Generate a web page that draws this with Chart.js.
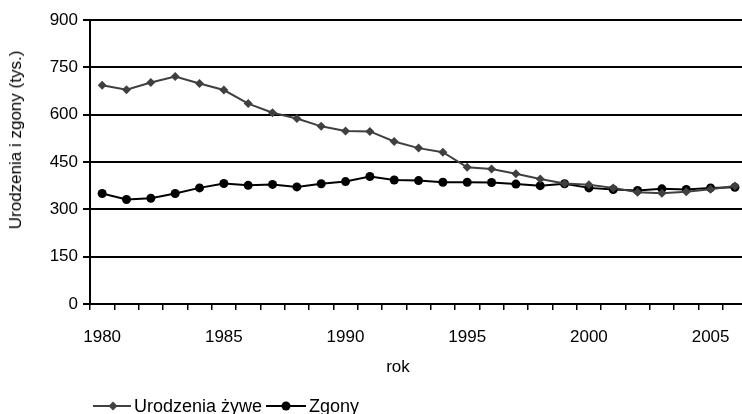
<!DOCTYPE html>
<html>
<head>
<meta charset="utf-8">
<script src="https://cdn.jsdelivr.net/npm/chart.js@4"></script>
<style>
  html, body { margin: 0; padding: 0; background: #fff; overflow: hidden; width: 742px; height: 414px; }
  #wrap { position: relative; width: 752px; height: 414px; font: 17px "Liberation Sans", Arial, sans-serif; color: #000; }
  #legend { position: absolute; left: 93px; top: 396px; display: flex; align-items: center; white-space: nowrap; line-height: 20px; font-size: 18px; }
  #legend svg { display: block; }
  #ytitle { position: absolute; left: 16px; top: 140px; transform: translate(-50%, -50%) rotate(-90deg); white-space: nowrap; }
  #xtitle { position: absolute; left: 398px; top: 367px; transform: translate(-50%, -50%); white-space: nowrap; }
</style>
</head>
<body>
<div id="wrap">
  <canvas id="chart" width="752" height="414"></canvas>
  <div id="ytitle">Urodzenia i zgony (tys.)</div>
  <div id="xtitle">rok</div>
  <div id="legend">
    <svg width="38" height="12"><line x1="0" y1="6" x2="38" y2="6" stroke="#404040" stroke-width="2"/><path d="M20 1.5 L24.5 6 L20 10.5 L15.5 6 Z" fill="#404040"/></svg>
    <span style="margin-left:3px">Urodzenia żywe</span>
    <svg width="40" height="12" style="margin-left:4px"><line x1="0" y1="6" x2="40" y2="6" stroke="#000" stroke-width="2"/><circle cx="20" cy="6" r="4.5" fill="#000"/></svg>
    <span style="margin-left:3px">Zgony</span>
  </div>
</div>
<script>
  /* ── Data ── */
  const years = [1980, 1981, 1982, 1983, 1984, 1985, 1986, 1987, 1988, 1989,
                 1990, 1991, 1992, 1993, 1994, 1995, 1996, 1997, 1998, 1999,
                 2000, 2001, 2002, 2003, 2004, 2005, 2006];
  const births = [693, 679, 702, 721, 699, 678, 635, 606, 588, 563,
                  548, 547, 515, 494, 481, 433, 428, 413, 396, 382,
                  378, 368, 354, 351, 356, 364, 374];
  const deaths = [350, 331, 335, 350, 368, 382, 376, 379, 371, 381,
                  388, 404, 393, 391, 386, 386, 385, 380, 375, 381,
                  368, 363, 360, 365, 363, 368, 370];
  const yTicks = [0, 150, 300, 450, 600, 750, 900];

  const font = { family: '"Liberation Sans", Arial, sans-serif', size: 17 };

  new Chart(document.getElementById('chart'), {
    type: 'line',
    data: {
      labels: years,
      datasets: [{
        label: 'Urodzenia żywe',
        data: births,
        borderColor: '#404040',
        backgroundColor: '#404040',
        borderWidth: 2,
        pointStyle: 'rectRot',
        pointRadius: 4.5,
        pointBorderWidth: 0,
        tension: 0,
      }, {
        label: 'Zgony',
        data: deaths,
        borderColor: '#000',
        backgroundColor: '#000',
        borderWidth: 2,
        pointStyle: 'circle',
        pointRadius: 4.5,
        pointBorderWidth: 0,
        tension: 0,
      }],
    },
    options: {
      responsive: false,
      animation: false,
      layout: { padding: { top: 20, right: 0, bottom: 30, left: 0 } },
      plugins: { legend: { display: false }, tooltip: { enabled: false } },
      scales: {
        x: {
          type: 'category',
          offset: true,
          afterFit: s => { s.height = 80; },
          border: { display: true, color: '#000', width: 2 },
          grid: { display: true, offset: true, drawOnChartArea: false, drawTicks: true, tickLength: 6, color: '#000', lineWidth: 1.5 },
          ticks: {
            autoSkip: false, maxRotation: 0, padding: 17, color: '#000', font,
            callback: function (v) { const y = this.getLabelForValue(v); return y % 5 === 0 ? String(y) : ''; },
          },
        },
        y: {
          min: 0, max: 900,
          afterFit: s => { s.width = 90; },
          afterBuildTicks: s => { s.ticks = yTicks.map(v => ({ value: v })); },
          border: { display: true, color: '#000', width: 2 },
          grid: { color: '#000', lineWidth: 2, drawTicks: true, tickLength: 7, tickColor: '#000' },
          ticks: { padding: 5, color: '#000', font },
        },
      },
    },
  });
</script>
</body>
</html>
